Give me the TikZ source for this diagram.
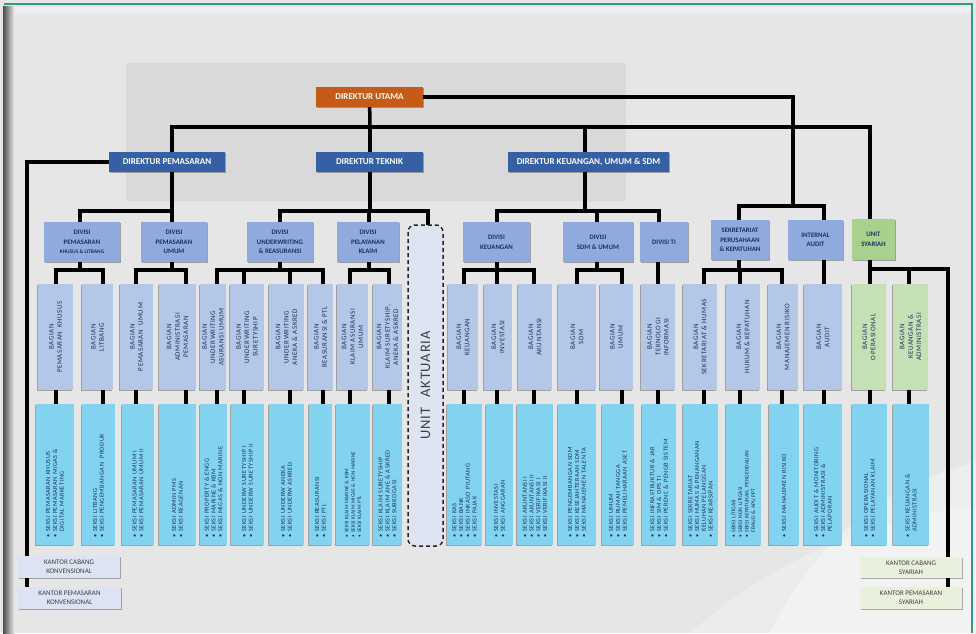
\documentclass[tikz,border=0pt]{standalone}
\usepackage{fontspec}
\setmainfont{Carlito}
\newfontfamily\spf[LetterSpace=8]{Carlito}
\newfontfamily\akf[LetterSpace=6]{Carlito}
\usetikzlibrary{shadows}
\pgfdeclarelayer{bg}\pgfdeclarelayer{lines}
\pgfsetlayers{bg,lines,main}
\definecolor{bgc}{HTML}{E6E6E6}
\definecolor{panelc}{HTML}{D9D9D9}
\definecolor{framec}{HTML}{2E9A8A}
\definecolor{dirutc}{HTML}{C65A17}
\definecolor{dirc}{HTML}{3560A5}
\definecolor{divc}{HTML}{8FAADC}
\definecolor{bagc}{HTML}{B4C7E7}
\definecolor{sekc}{HTML}{82D3EF}
\definecolor{txtc}{HTML}{1A3260}
\definecolor{syac}{HTML}{A9D18E}
\definecolor{syal}{HTML}{C5E0B4}
\definecolor{kkc}{HTML}{DDE3F2}
\definecolor{ksc}{HTML}{E8F1DC}
\definecolor{aktc}{HTML}{DEE4F2}
\tikzset{
 box/.style={rectangle, inner sep=1pt, align=center},
 shd/.style={drop shadow={shadow xshift=1.2pt, shadow yshift=-1.2pt, opacity=.3, fill=black}},
 rshd/.style={drop shadow={shadow xshift=-1.2pt, shadow yshift=-1.2pt, opacity=.3, fill=black}},
 dirbox/.style={box, shd, fill=dirc, text=white, font=\bfseries\fontsize{9}{10}\selectfont},
 divbox/.style={box, shd, fill=divc, text=txtc, font=\bfseries\fontsize{6.8}{9.6}\selectfont},
 bagbox/.style={box, rshd, fill=bagc, text=txtc, rotate=90, font=\spf\fontsize{7}{8.4}\selectfont},
 sekbox/.style={box, rshd, fill=sekc, text=txtc, rotate=90, align=left, font=\spf\fontsize{6.3}{6.8}\selectfont},
 kbox/.style={box, shd, text=black!75, font=\fontsize{7}{9}\selectfont},
 aktbox/.style={box, rotate=90, fill=aktc, draw=black!85, line width=1.5pt, dash pattern=on 4pt off 3pt, rounded corners=7pt, text=black!75, font=\akf\fontsize{14.5}{16}\selectfont},
 conn/.style={line width=3.5pt, black, line cap=rect},
}
\newcommand\hbx[7]{\node[#1, minimum width={(#5)-(#3)}, minimum height={(#6)-(#4)}] (#2) at ({(#3+#5)/2},{(#4+#6)/2}) {#7};}
\newcommand\vbx[7]{\node[#1, minimum width={(#6)-(#4)}, minimum height={(#5)-(#3)}] (#2) at ({(#3+#5)/2},{(#4+#6)/2}) {#7};}
\newcommand\skbx[7]{\pgfmathsetmacro\tw{#6-#4-16}\node[#1, minimum width={(#6)-(#4)}, minimum height={(#5)-(#3)}, text width=\tw pt] (#2) at ({(#3+#5)/2},{(#4+#6)/2}) {#7};}
\newcommand\ind{\phantom{• }}
\begin{document}
\begin{tikzpicture}[x=1pt,y=-1pt]
\begin{pgfonlayer}{bg}
\fill[bgc] (0,0) rectangle (976,633);
\fill[white,opacity=.35] (770,633) .. controls (820,530) and (900,480) .. (976,462) -- (976,633) -- cycle;
\fill[white,opacity=.25] (690,633) .. controls (760,570) and (860,520) .. (976,505) -- (976,633) -- cycle;
\fill[white,opacity=.3] (14,7) rectangle (972,14);
\shade[left color=black!70, right color=bgc] (3,7) rectangle (14,633);
\fill[panelc] (126,63) rectangle (626,201);
\draw[framec, line width=1.5pt] (4,4) -- (972,4) -- (972,633);
\end{pgfonlayer}
% directors
\hbx{dirbox, fill=dirutc}{dirut}{316}{87}{423}{107}{DIREKTUR UTAMA}
\hbx{dirbox}{dpm}{109}{152}{225}{172}{DIREKTUR PEMASARAN}
\hbx{dirbox}{dtk}{316}{152}{423}{172}{DIREKTUR TEKNIK}
\hbx{dirbox}{dku}{508}{152}{669}{172}{DIREKTUR KEUANGAN, UMUM \& SDM}
% divisions
\hbx{divbox}{dv1}{44}{222}{120}{262}{DIVISI\\PEMASARAN\\{\fontsize{5.4}{6}\selectfont KHUSUS \& LITBANG}}
\hbx{divbox}{dv2}{141}{222}{207}{262}{DIVISI\\PEMASARAN\\UMUM}
\hbx{divbox}{dv3}{247}{222}{313}{262}{DIVISI\\UNDERWRITING\\\& REASURANSI}
\hbx{divbox}{dv4}{337}{222}{399}{262}{DIVISI\\PELAYANAN\\KLAIM}
\vbx{aktbox}{akt}{408}{225}{443}{546}{UNIT\hspace{0.7em}AKTUARIA}
\hbx{divbox}{dv5}{463}{222}{530}{262}{DIVISI\\KEUANGAN}
\hbx{divbox}{dv6}{563}{222}{633}{262}{DIVISI\\SDM \& UMUM}
\hbx{divbox}{dv7}{640}{222}{688}{262}{DIVISI TI}
\hbx{divbox}{dv8}{711}{220}{769}{260}{SEKRETARIAT\\PERUSAHAAN\\\& KEPATUHAN}
\hbx{divbox}{dv9}{788}{220}{843}{260}{INTERNAL\\AUDIT}
\hbx{divbox, fill=syac}{dv10}{852}{219}{895}{260}{UNIT\\SYARIAH}
% bagian
\vbx{bagbox}{b1}{38}{284}{73}{390}{BAGIAN\\PEMASARAN\ \ KHUSUS}
\vbx{bagbox}{b2}{82}{284}{113}{390}{BAGIAN\\LITBANG}
\vbx{bagbox}{b3}{120}{284}{153}{390}{BAGIAN\\PEMASARAN\ \ UMUM}
\vbx{bagbox}{b4}{159}{284}{196}{390}{BAGIAN\\ADMINISTRASI\\PEMASARAN}
\vbx{bagbox}{b5}{200}{284}{226}{390}{BAGIAN\\UNDERWRITING\\ASURANSI UMUM}
\vbx{bagbox}{b6}{230}{284}{264}{390}{BAGIAN\\UNDERWRITING\\SURETYSHIP}
\vbx{bagbox}{b7}{269}{284}{304}{390}{BAGIAN\\UNDERWRITING\\ANEKA \& ASKRED}
\vbx{bagbox}{b8}{308}{284}{333}{390}{BAGIAN\\REASURANSI \& PTL}
\vbx{bagbox}{b9}{337}{284}{368}{390}{BAGIAN\\KLAIM ASURANSI\\UMUM}
\vbx{bagbox}{b10}{373}{284}{402}{390}{BAGIAN\\KLAIM SURETYSHIP,\\ANEKA \& ASKRED}
\vbx{bagbox}{b11}{448}{284}{478}{390}{BAGIAN\\KEUANGAN}
\vbx{bagbox}{b12}{484}{284}{512}{390}{BAGIAN\\INVESTASI}
\vbx{bagbox}{b13}{518}{284}{552}{390}{BAGIAN\\AKUNTANSI}
\vbx{bagbox}{b14}{558}{284}{596}{390}{BAGIAN\\SDM}
\vbx{bagbox}{b15}{600}{284}{633}{390}{BAGIAN\\UMUM}
\vbx{bagbox}{b16}{641}{284}{675}{390}{BAGIAN\\TEKNOLOGI\\INFORMASI}
\vbx{bagbox}{b17}{683}{284}{717}{390}{BAGIAN\\SEKRETARIAT \& HUMAS}
\vbx{bagbox}{b18}{726}{284}{760}{390}{BAGIAN\\HUKUM \& KEPATUHAN}
\vbx{bagbox}{b19}{768}{284}{798}{390}{BAGIAN\\MANAJEMEN RISIKO}
\vbx{bagbox}{b20}{804}{284}{842}{390}{BAGIAN\\AUDIT}
\vbx{bagbox, fill=syal}{b21}{852}{284}{886}{390}{BAGIAN\\OPERASIONAL}
\vbx{bagbox, fill=syal}{b22}{893}{284}{928}{390}{BAGIAN\\KEUANGAN \&\\ADMINISTRASI}
% seksi
\skbx{sekbox}{s1}{36}{404}{74}{545}{• SEKSI PEMASARAN KHUSUS\\• SEKSI PEMASARAN MIGAS \&\\\ind DIGITAL MARKETING}
\skbx{sekbox}{s2}{82}{404}{115}{545}{• SEKSI LITBANG\\• SEKSI PENGEMBANGAN\ \ PRODUK}
\skbx{sekbox}{s3}{122}{404}{154}{545}{• SEKSI PEMASARAN UMUM I\\• SEKSI PEMASARAN UMUM II}
\skbx{sekbox}{s4}{159}{404}{196}{545}{• SEKSI ADMIN PMS\\• SEKSI KEAGENAN}
\skbx{sekbox}{s5}{200}{404}{227}{545}{• SEKSI PROPERTY \& ENGG\\• SEKSI MARINE \& KBM\\• SEKSI MIGAS \& NON MARINE}
\skbx{sekbox}{s6}{231}{404}{264}{545}{• SEKSI UNDERW SURETYSHIP I\\• SEKSI UNDERW SURETYSHIP II}
\skbx{sekbox}{s7}{269}{404}{304}{545}{• SEKSI UNDERW ANEKA\\• SEKSI UNDERW ASKRED}
\skbx{sekbox}{s8}{309}{404}{332}{545}{• SEKSI REASURANSI\\• SEKSI PTL}
\skbx{sekbox, font=\fontsize{5.3}{6.4}\selectfont}{s9}{336}{404}{370}{545}{• SEKSI KLAIM MARINE \& KBM\\• SEKSI KLAIM MIGAS \& NON MARINE\\• SEKSI KLAIM PTL}
\skbx{sekbox}{s10}{373}{404}{402}{545}{• SEKSI KLAIM SURETYSHIP\\• SEKSI KLAIM ANE \& ASKRED\\• SEKSI SUBROGASI}
\skbx{sekbox}{s11}{447}{404}{482}{545}{• SEKSI KAS\\• SEKSI BANK\\• SEKSI INKASO PIUTANG\\• SEKSI PAJAK}
\skbx{sekbox}{s12}{486}{404}{513}{545}{• SEKSI INVESTASI\\• SEKSI ANGGARAN}
\skbx{sekbox}{s13}{517}{404}{553}{545}{• SEKSI AKUNTANSI I\\• SEKSI AKUNTANSI II\\• SEKSI VERIFIKASI I\\• SEKSI VERIFIKASI II}
\skbx{sekbox}{s14}{558}{404}{596}{545}{• SEKSI PENGEMBANGAN SDM\\• SEKSI KESEJAHTERAAN SDM\\• SEKSI MANAJEMEN TALENTA}
\skbx{sekbox}{s15}{602}{404}{634}{545}{• SEKSI UMUM\\• SEKSI RUMAH TANGGA\\• SEKSI PEMELIHARAAN ASET}
\skbx{sekbox}{s16}{642}{404}{676}{545}{• SEKSI INFRASTRUKTUR \& JAR\\• SEKSI SIM \& OPS TI\\• SEKSI PERENC \& PENGB SISTEM}
\skbx{sekbox}{s17}{683}{404}{718}{545}{• SEKSI SEKRETARIAT\\• SEKSI HUMAS \& PENANGANAN\\\ind KELUHAN PELANGGAN\\• SEKSI KEARSIPAN}
\skbx{sekbox, font=\fontsize{5.6}{6.6}\selectfont}{s18}{726}{404}{761}{545}{• SEKSI LITIGASI\\• SEKSI NON LITIGASI\\• SEKSI KEPATUHAN, PENGENDALIAN\\\ind FRAUD \& APU PPT}
\skbx{sekbox}{s19}{769}{404}{799}{545}{• SEKSI MANAJEMEN RISIKO}
\skbx{sekbox}{s20}{804}{404}{842}{545}{• SEKSI AUDIT \& MONITORING\\• SEKSI ADMINISTRASI \&\\\ind PELAPORAN}
\skbx{sekbox}{s21}{852}{404}{887}{545}{• SEKSI OPERASIONAL\\• SEKSI PELAYANAN KLAIM}
\skbx{sekbox}{s22}{893}{404}{929}{545}{• SEKSI KEUANGAN \&\\\ind ADMINISTRASI}
% kantor
\hbx{kbox, fill=kkc}{kk1}{18}{556}{120}{578}{KANTOR CABANG\\KONVENSIONAL}
\hbx{kbox, fill=kkc}{kk2}{18}{587}{121}{609}{KANTOR PEMASARAN\\KONVENSIONAL}
\hbx{kbox, fill=ksc}{ks1}{860}{557}{962}{578}{KANTOR CABANG\\SYARIAH}
\hbx{kbox, fill=ksc}{ks2}{860}{587}{962}{609}{KANTOR PEMASARAN\\SYARIAH}
% connectors
\begin{pgfonlayer}{lines}
\draw[conn] (dirut.center) -| (793,206);
\draw[conn] (739,0 |- dv8.center) |- (824,206) -- (824,0 |- dv9.center);
\draw[conn] (dirut.center) -- (370,127);
\draw[conn] (172,0 |- dpm.center) |- (870,127) -- (870,0 |- dv10.center);
\draw[conn] (370,0 |- dtk.center) -- (370,127);
\draw[conn] (585,127) -- (585,0 |- dku.center);
\draw[conn] (dpm.center) -| (27,0 |- kk2.center);
\draw[conn] (172,0 |- dpm.center) -- (172,0 |- dv2.center);
\draw[conn] (172,211) -| (80,0 |- dv1.center);
\draw[conn] (370,0 |- dtk.center) -- (370,211);
\draw[conn] (280,0 |- dv3.center) |- (428,211) -- (428,0 |- akt.center);
\draw[conn] (369,211) -- (369,0 |- dv4.center);
\draw[conn] (585,0 |- dku.center) -- (585,211);
\draw[conn] (497,0 |- dv5.center) |- (659,211) -- (659,0 |- dv7.center);
\draw[conn] (597,211) -- (597,0 |- dv6.center);
\foreach \d/\px/\xa/\xb in {dv1/80/56/103, dv2/172/136/186, dv3/280/217/323, dv4/369/350/389, dv5/497/464/534, dv6/597/577/622, dv8/739/704/782} {
  \draw[conn] (\px,0 |- \d.center) -- (\px,270);
  \draw[conn] (\xa,270) -- (\xb,270);
}
\draw[conn] (658,0 |- dv7.center) -- (658,270);
\draw[conn] (824,0 |- dv9.center) -- (824,270);
\draw[conn] (870,0 |- dv10.center) -- (870,269) -| (948,0 |- ks2.center);
\foreach \x/\s in {56/s1,103/s2,136/s3,186/s4,217/s5,244/s6,290/s7,323/s8,350/s9,389/s10,464/s11,497/s12,534/s13,577/s14,622/s15,658/s16,704/s17,740/s18,782/s19,824/s20,870/s21,909/s22}
  \draw[conn] (\x,270) -- (\x,0 |- \s.center);
\end{pgfonlayer}
\end{tikzpicture}
\end{document}
